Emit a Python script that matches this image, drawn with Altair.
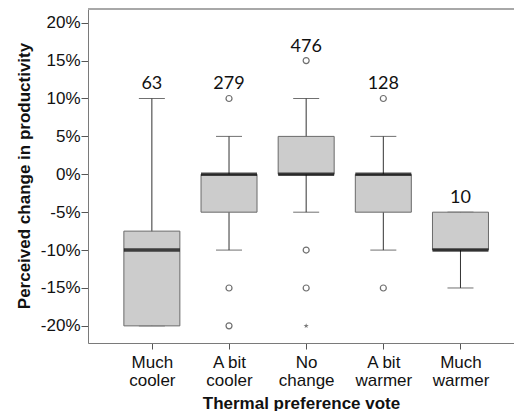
import altair as alt
import pandas as pd

categories = ["Much cooler", "A bit cooler", "No change", "A bit warmer", "Much warmer"]
whisker_low = [-20, -10, -5, -10, -15]
q1 = [-20, -5, 0, -5, -10]
median = [-10, 0, 0, 0, -10]
q3 = [-7.5, 0, 5, 0, -5]
whisker_high = [10, 5, 10, 5, -5]
counts = [63, 279, 476, 128, 10]

outlier_cat = ["A bit cooler", "A bit cooler", "A bit cooler",
               "No change", "No change", "No change",
               "A bit warmer", "A bit warmer"]
outlier_val = [10, -15, -20, 15, -10, -15, 10, -15]
extreme_cat = ["No change"]
extreme_val = [-20]

y_ticks = [-20, -15, -10, -5, 0, 5, 10, 15, 20]

idx = {c: i for i, c in enumerate(categories)}
top_vals = []
for i, c in enumerate(categories):
    vals = [whisker_high[i]] + [v for cc, v in zip(outlier_cat, outlier_val) if cc == c] \
        + [v for cc, v in zip(extreme_cat, extreme_val) if cc == c]
    top_vals.append(max(vals))

summary = pd.DataFrame({
    "i": list(range(len(categories))),
    "cat": categories,
    "lo": whisker_low, "q1": q1, "med": median, "q3": q3, "hi": whisker_high,
    "n": counts, "top": top_vals,
})
outliers = pd.DataFrame({"i": [idx[c] for c in outlier_cat], "v": outlier_val})
extremes = pd.DataFrame({"i": [idx[c] for c in extreme_cat], "v": extreme_val})

def split2(s):
    k = s.rfind(" ")
    return [s[:k], s[k + 1:]]

label_arr = "[" + ",".join("['%s','%s']" % tuple(split2(c)) for c in categories) + "]"

STAR = ("M0,-1L0.2245,-0.309L0.951,-0.309L0.363,0.118L0.588,0.809L0,0.382"
        "L-0.588,0.809L-0.363,0.118L-0.951,-0.309L-0.2245,-0.309Z")

W, H = 426, 335
xscale = alt.Scale(domain=[-0.763, 4.629], nice=False, zero=False)
yscale = alt.Scale(domain=[-22.26, 21.94], nice=False, zero=False)

x_axis = alt.Axis(values=list(range(len(categories))), labelExpr=label_arr + "[datum.value]",
                  title="Thermal preference vote", grid=False, domainColor="#7a7a7a",
                  tickColor="#555555", tickSize=6, labelPadding=5, labelFontSize=17,
                  labelLineHeight=18, labelFont="Liberation Sans", labelColor="#111111",
                  titleFont="Liberation Sans", titleFontSize=17, titleFontWeight="bold",
                  titleColor="#111111", titlePadding=7)
y_axis = alt.Axis(values=y_ticks, labelExpr="datum.value + '%'", title="Perceived change in productivity",
                  grid=False, domainColor="#7a7a7a", tickColor="#555555", tickSize=7,
                  labelPadding=1, labelFontSize=17, labelFont="Liberation Sans",
                  labelColor="#111111", titleFont="Liberation Sans", titleFontSize=17,
                  titleFontWeight="bold", titleColor="#111111", titlePadding=7)

base = alt.Chart(summary)
X = alt.X("i:Q", scale=xscale, axis=x_axis)

whisk = base.mark_rule(color="#333333", strokeWidth=1).encode(
    x=X, y=alt.Y("lo:Q", scale=yscale, axis=y_axis), y2="hi:Q")
cap_lo = base.mark_tick(orient="horizontal", size=26, thickness=1, color="#333333").encode(
    x=alt.X("i:Q", scale=xscale), y=alt.Y("lo:Q", scale=yscale))
cap_hi = base.mark_tick(orient="horizontal", size=26, thickness=1, color="#333333").encode(
    x=alt.X("i:Q", scale=xscale), y=alt.Y("hi:Q", scale=yscale))
box = base.mark_bar(orient="vertical", size=56, fill="#cccccc", stroke="#6a6a6a", strokeWidth=1).encode(
    x=alt.X("i:Q", scale=xscale), y=alt.Y("q1:Q", scale=yscale), y2="q3:Q")
med = base.mark_tick(orient="horizontal", size=56, thickness=3.5, color="#000000").encode(
    x=alt.X("i:Q", scale=xscale), y=alt.Y("med:Q", scale=yscale))
outl = alt.Chart(outliers).mark_point(shape="circle", filled=False, size=36, stroke="#333333",
                                      strokeWidth=1.2).encode(
    x=alt.X("i:Q", scale=xscale), y=alt.Y("v:Q", scale=yscale))
ext = alt.Chart(extremes).mark_point(shape=STAR, filled=True, size=30, fill="#444444",
                                     strokeWidth=0).encode(
    x=alt.X("i:Q", scale=xscale), y=alt.Y("v:Q", scale=yscale))
labels = base.mark_text(font="Lato", fontSize=18, color="#111111", baseline="bottom", dy=-5).encode(
    x=alt.X("i:Q", scale=xscale), y=alt.Y("top:Q", scale=yscale), text="n:Q")
frame_top = alt.Chart(summary).mark_rule(color="#a8a8a8", strokeWidth=2).encode(
    x=alt.value(0), x2=alt.value(W + 10), y=alt.value(1))

chart = alt.layer(whisk, cap_lo, cap_hi, box, med, outl, ext, labels, frame_top).properties(
    width=W, height=H,
    autosize=alt.AutoSizeParams(type="none"),
    padding={"left": 80, "top": 0, "right": 0, "bottom": 68},
).configure_view(stroke=None).configure(background="white")

chart.save("out.html", embed_options={"renderer": "svg", "actions": False})
